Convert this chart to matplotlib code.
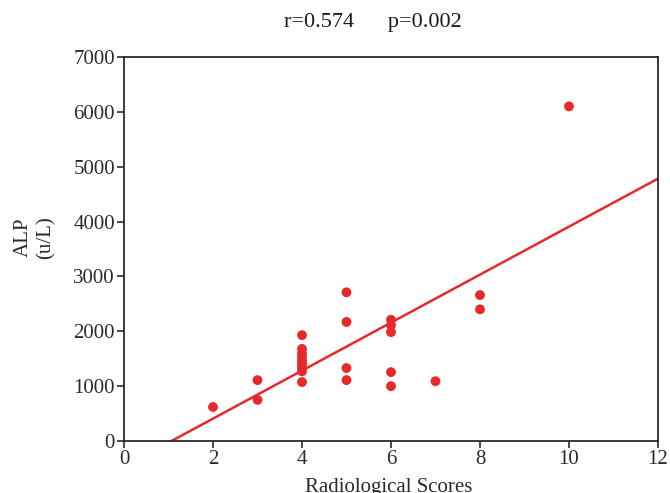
import numpy as np
import matplotlib.pyplot as plt

plt.rcParams['font.family'] = ['Liberation Serif', 'DejaVu Serif']

# radiological score vs ALP (u/L)
scores = [2, 3, 3,
          4, 4, 4, 4, 4, 4, 4, 4, 4,
          5, 5, 5, 5,
          6, 6, 6, 6, 6,
          7, 8, 8, 10]
alp = [620, 1110, 750,
       1930, 1680, 1600, 1530, 1460, 1400, 1330, 1270, 1075,
       2710, 2170, 1330, 1110,
       2210, 2110, 1985, 1255, 1000,
       1090, 2660, 2400, 6100]

r_text = "r=0.574"
p_text = "p=0.002"

red = "#e8292c"
ink = "#2a2a2a"

fig = plt.figure(figsize=(6.7, 4.93), dpi=100)
ax = fig.add_axes([124 / 670, 1 - 441 / 493, (658 - 124) / 670, (441 - 57) / 493])

slope, icpt = np.polyfit(scores, alp, 1)
xs = np.array([-icpt / slope, 12])
ax.plot(xs, slope * xs + icpt, color=red, lw=1.8, zorder=2)
ax.scatter(scores, alp, s=50, color=red, edgecolors="none", zorder=3)

ax.set_xlim(0, 12)
ax.set_ylim(0, 7000)
ax.set_xticks(range(0, 13, 2))
ax.set_yticks(range(0, 7001, 1000))
ax.tick_params(direction="out", length=5, width=1.2, labelsize=15, colors=ink,
               pad=1.5, top=False, right=False)
for sp in ax.spines.values():
    sp.set_linewidth(1.3)
    sp.set_color(ink)

ax.set_xlabel("Radiological Scores", fontsize=15, color=ink)
ax.xaxis.set_label_coords(0.496, -0.096)  # partly cut at the bottom, like the source
ax.set_ylabel("ALP\n(u/L)", fontsize=15, color=ink, linespacing=1.25)
ax.yaxis.set_label_coords(-0.128, 0.53)

fig.text(373 / 670, 1 - 22 / 493, r_text + "      " + p_text, ha="center", va="center",
         fontsize=16, color="#1a1a1a")

fig.savefig("out.png", dpi=100)
